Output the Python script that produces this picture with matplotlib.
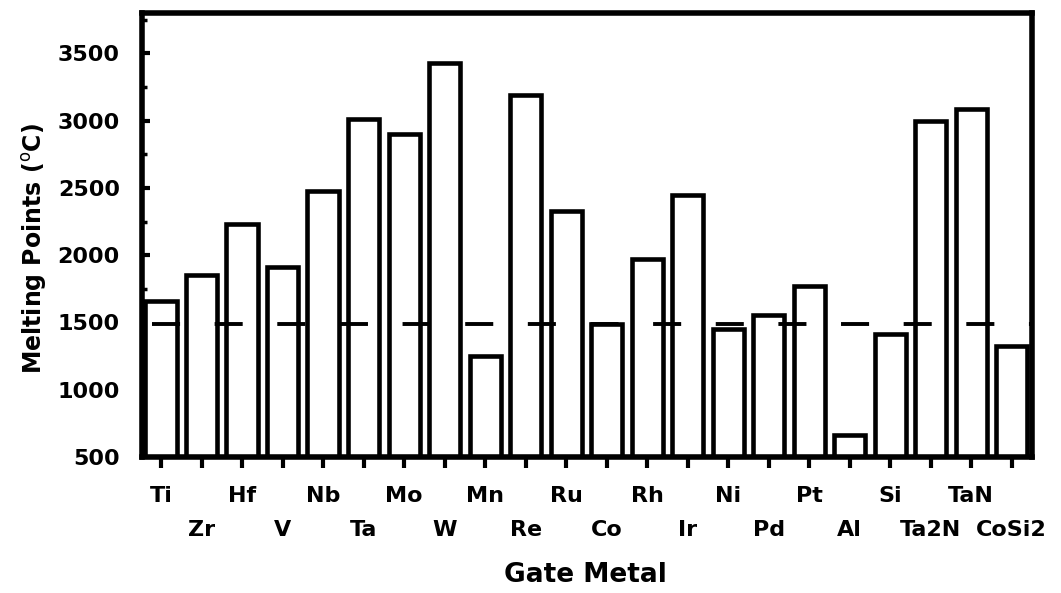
import matplotlib
matplotlib.use("Agg")
import matplotlib.pyplot as plt
import numpy as np

metals = ["Ti", "Zr", "Hf", "V", "Nb", "Ta", "Mo", "W", "Mn", "Re", "Ru",
          "Co", "Rh", "Ir", "Ni", "Pd", "Pt", "Al", "Si", "Ta2N", "TaN", "CoSi2"]
melting = [1662, 1850, 2230, 1910, 2475, 3015, 2900, 3425, 1247, 3187, 2330,
           1490, 1968, 2447, 1455, 1552, 1768, 660, 1412, 3000, 3085, 1326]
reference_level = 1485
y_ticks = [500, 1000, 1500, 2000, 2500, 3000, 3500]

plt.rcParams['font.family'] = ['DejaVu Sans']
plt.rcParams['lines.scale_dashes'] = False

fig = plt.figure(figsize=(10.61, 5.93), dpi=100)
ax = fig.add_axes([142/1061, 1 - 457/593, (1032-142)/1061, (457-13)/593])

x = np.arange(len(metals))
ax.bar(x, melting, width=0.77, facecolor='white', edgecolor='black',
       linewidth=3.3, zorder=2)

ax.axhline(reference_level, color='black', linewidth=2.8, zorder=3,
           linestyle=(37.9, (20.2, 24.9)))

ax.set_xlim(-0.47, 21.5)
ax.set_ylim(500, 3800)

ax.set_yticks(y_ticks)
ax.set_yticks(np.arange(750, 3800, 500), minor=True)
ax.set_yticklabels([str(v) for v in y_ticks], fontsize=16, fontweight='bold')

even = x[0::2]
odd = x[1::2]
ax.set_xticks(even)
ax.set_xticklabels([metals[i] for i in even], fontsize=16, fontweight='bold')
ax.xaxis.set_ticks(odd, minor=True)
ax.xaxis.set_ticklabels([metals[i] for i in odd], minor=True,
                        fontsize=16, fontweight='bold')

ax.tick_params(axis='y', which='major', direction='in', length=6, width=3,
               pad=16)
ax.tick_params(axis='y', which='minor', direction='in', length=3.5, width=2.5)
ax.tick_params(axis='x', which='major', direction='out', length=8, width=3,
               pad=13)
ax.tick_params(axis='x', which='minor', direction='out', length=8, width=3,
               pad=37)

for s in ax.spines.values():
    s.set_linewidth(4)
    s.set_zorder(4)

ax.set_ylabel(r'Melting Points ($^{\rm o}$C)', fontsize=17, fontweight='bold')
ax.yaxis.set_label_coords(-0.105, 0.47)
ax.set_xlabel('Gate Metal', fontsize=19, fontweight='bold')
ax.xaxis.set_label_coords(0.498, -0.236)

fig.savefig('out.png', dpi=100)
